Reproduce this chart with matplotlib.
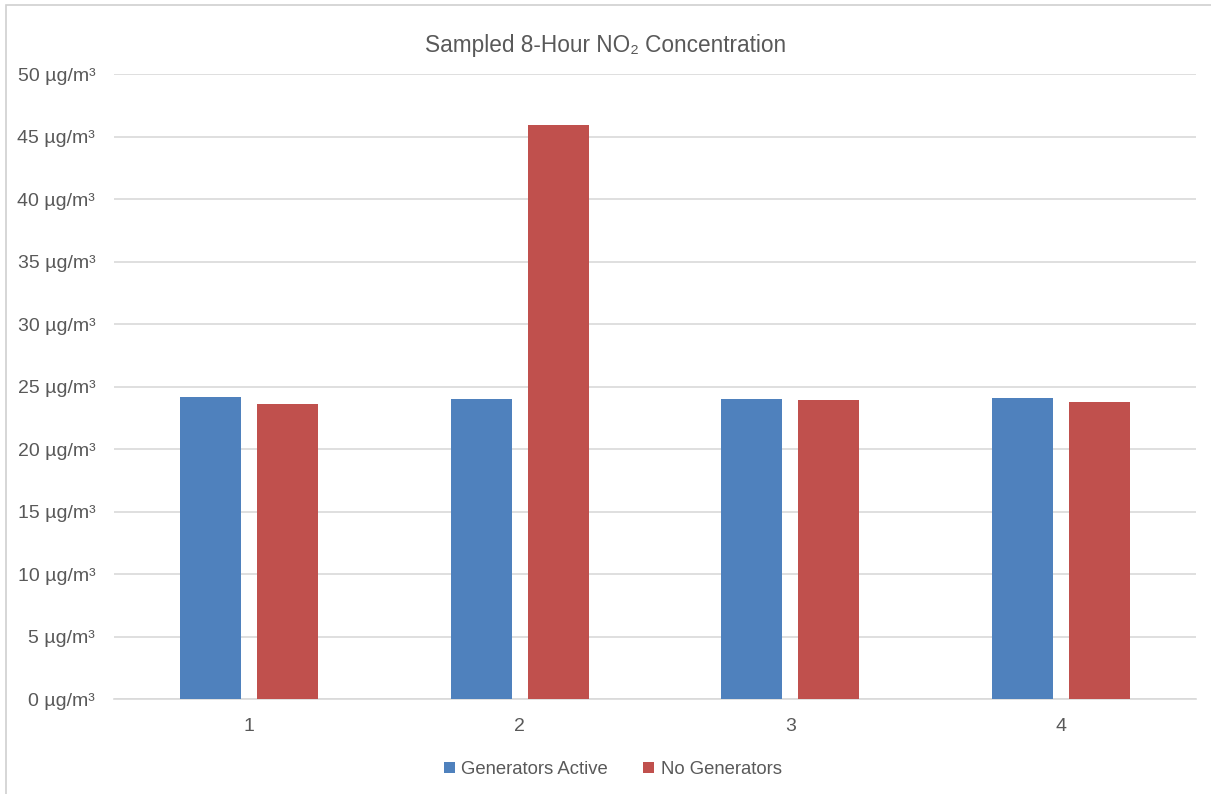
import numpy as np
import matplotlib.pyplot as plt
from matplotlib.patches import Rectangle

plt.rcParams['font.family'] = ['Liberation Sans', 'DejaVu Sans']

# Data
samples = ["1", "2", "3", "4"]
generators_active = [24.2, 24.0, 24.0, 24.1]
no_generators = [23.6, 45.9, 23.9, 23.8]
y_ticks = [0, 5, 10, 15, 20, 25, 30, 35, 40, 45, 50]

BLUE = "#4F81BD"
RED = "#C0504D"
TEXT = "#595959"
GRID = "#D9D9D9"

fig = plt.figure(figsize=(12.11, 7.94), dpi=100)
ax = fig.add_axes([0.0941, 0.1196, 0.8935, 0.7872])

x = np.arange(len(samples))
width = 0.225
offset = 0.142
ax.bar(x - offset, generators_active, width, color=BLUE, label="Generators Active", zorder=3)
ax.bar(x + offset, no_generators, width, color=RED, label="No Generators", zorder=3)

ax.set_xlim(-0.5, len(samples) - 0.5)
ax.set_ylim(0, 50)
ax.set_xticks(x)
ax.set_xticklabels(samples)
ax.set_yticks(y_ticks)
ax.set_yticklabels([f"{v} µg/m³" for v in y_ticks])

ax.grid(axis="y", color=GRID, linewidth=1.2, zorder=0)
for side in ["top", "right", "left"]:
    ax.spines[side].set_visible(False)
ax.spines["bottom"].set_color(GRID)
ax.spines["bottom"].set_linewidth(1.2)
ax.tick_params(axis="both", length=0, labelsize=14, labelcolor=TEXT)
ax.tick_params(axis="y", pad=13.5)
ax.tick_params(axis="x", pad=14)

fig.text(0.5, 0.943, "Sampled 8-Hour NO₂ Concentration", ha="center", va="center",
         fontsize=16.3, color=TEXT)

fig.legend(loc="center", bbox_to_anchor=(0.506, 0.031), ncol=2, frameon=False,
           fontsize=13.3, labelcolor=TEXT, handlelength=0.6, handleheight=0.6,
           handletextpad=0.35, columnspacing=1.9)

# light chart-area border
fig.patches.append(Rectangle((6 / 1211, -0.05), 1.1, 1 - 5 / 794 + 0.05,
                             transform=fig.transFigure, fill=False,
                             edgecolor="#D0D0D0", linewidth=1.2))

fig.savefig("out.png", dpi=100, facecolor="white")
